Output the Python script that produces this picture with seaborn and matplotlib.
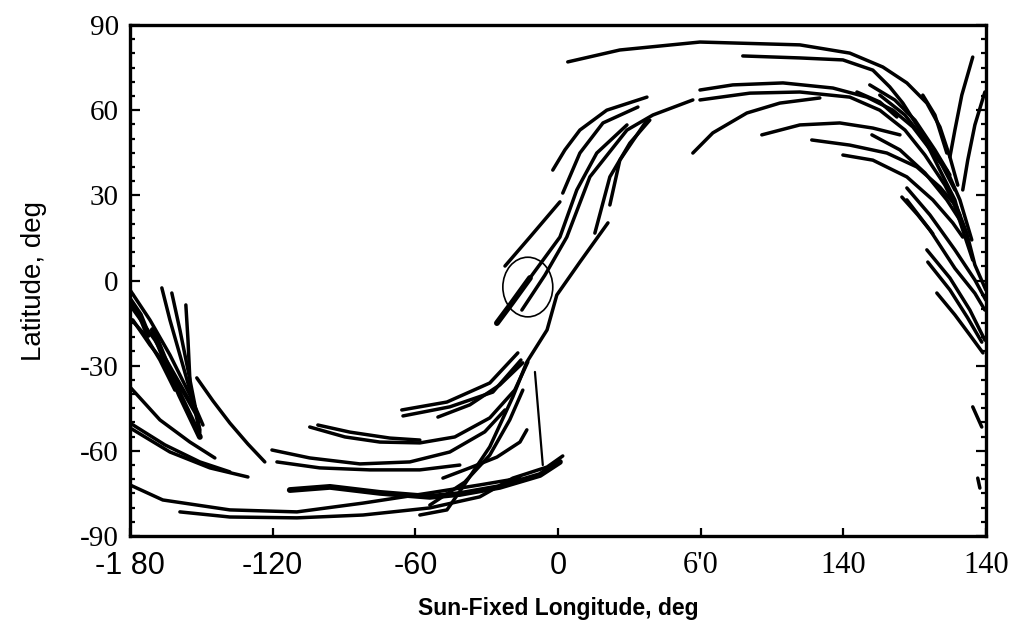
import numpy as np
import pandas as pd
import seaborn as sns
import matplotlib.pyplot as plt
from matplotlib import font_manager
from matplotlib.patches import Circle
from matplotlib.ticker import MultipleLocator

# ground tracks, each track is a list of (lon, lat) in deg
left_fan = [
    [(-180.0, -3.3), (-171.6, -13.9), (-163.2, -26.2), (-154.8, -40.3), (-149.3, -50.9)],
    [(-180.0, -8.6), (-169.5, -21.0), (-161.1, -33.3), (-152.7, -45.6), (-150.6, -53.4)],
    [(-178.8, -13.9), (-171.6, -22.7), (-163.2, -31.5), (-156.9, -40.3), (-151.4, -48.4)],
    [(-166.6, -2.6), (-163.2, -13.9), (-159.0, -26.2), (-154.8, -38.6), (-151.4, -48.4)],
    [(-162.4, -4.4), (-159.0, -17.4), (-155.6, -31.5), (-152.7, -43.8), (-150.6, -52.6)],
    [(-156.5, -8.6), (-155.6, -21.0), (-154.8, -35.0)],
    [(-180.0, -13.2), (-173.7, -19.2), (-167.4, -28.0), (-161.1, -38.6)],
    [(-151.9, -34.3), (-145.1, -42.4), (-138.0, -50.2), (-130.4, -57.6), (-123.3, -63.9)],
]

south_arcs = [
    [(-180.0, -37.5), (-167.4, -49.1), (-154.8, -56.9), (-144.3, -62.5)],
    [(-180.0, -50.2), (-165.3, -57.9), (-150.6, -63.9), (-138.0, -67.4)],
    [(-180.0, -51.9), (-163.2, -60.4), (-146.4, -66.0), (-130.4, -69.2)],
    [(-180.0, -72.0), (-166.2, -77.3), (-138.0, -80.8), (-109.8, -81.5), (-82.0, -78.4),
     (-53.9, -74.8), (-32.9, -72.0), (-16.0, -69.6)],
    [(-159.0, -81.5), (-138.0, -83.3), (-109.8, -83.6), (-82.0, -82.6), (-53.9, -80.1),
     (-32.9, -76.2), (-19.0, -69.6), (-4.6, -65.7), (2.0, -61.8)],
    [(-104.4, -51.6), (-89.6, -55.1), (-74.9, -56.9), (-58.1, -57.2), (-43.4, -55.1),
     (-28.7, -48.4), (-18.2, -38.6), (-12.7, -28.7)],
    [(-101.0, -50.9), (-87.5, -53.4), (-70.7, -55.5), (-58.1, -56.2)],
    [(-120.3, -59.7), (-104.4, -62.5), (-83.3, -64.6), (-62.3, -63.9), (-45.5, -60.4),
     (-30.8, -53.3), (-22.3, -45.6)],
    [(-118.2, -63.9), (-100.2, -66.0), (-79.1, -66.7), (-58.1, -66.7), (-41.3, -65.0)],
    [(-65.7, -45.6), (-46.7, -42.8), (-28.7, -36.1), (-16.9, -25.5)],
    [(-65.2, -47.7), (-45.5, -44.5), (-27.4, -39.3), (-15.6, -28.0)],
    [(-50.5, -48.1), (-37.1, -43.8), (-24.5, -36.8), (-14.8, -29.0)],
    [(-48.4, -69.6), (-37.1, -66.0), (-25.7, -62.2), (-16.0, -56.9), (-13.1, -52.6)],
    [(-53.9, -79.1), (-39.2, -71.0), (-28.7, -61.5), (-20.3, -49.1), (-14.8, -38.6)],
]

center_tracks = [
    [(-58.1, -82.6), (-46.7, -80.8), (-40.0, -72.7), (-28.7, -58.6), (-19.0, -41.0),
     (-13.1, -28.7), (-4.6, -17.4), (-0.5, -5.1), (9.2, 6.5), (21.0, 20.3)],
    [(-22.3, 5.1), (-11.8, 15.3), (0.8, 27.7)],
    [(-25.7, -15.0), (-11.8, 0.9), (0.8, 15.3), (7.9, 31.9), (16.3, 44.9), (29.0, 54.8)],
    [(-15.2, -10.4), (-5.5, 1.9), (3.7, 15.3), (13.4, 36.5), (29.0, 53.0), (39.9, 58.3),
     (56.7, 63.6)],
    [(-2.2, 38.9), (2.9, 46.0), (9.2, 53.0), (20.5, 60.0), (37.4, 64.6)],
    [(2.0, 30.8), (9.2, 44.9), (18.9, 55.5), (33.6, 61.1)],
    [(15.5, 16.7), (21.8, 36.5), (30.2, 48.4), (38.6, 56.5)],
    [(21.8, 26.6), (26.0, 42.4), (37.4, 56.5)],
]

north_arcs = [
    [(4.1, 77.0), (26.0, 81.2), (59.7, 84.0), (101.7, 83.0), (122.7, 80.1), (136.6, 75.2),
     (146.7, 69.6), (155.1, 62.5), (160.6, 54.1), (164.8, 43.5), (168.1, 33.6)],
    [(77.7, 79.1), (101.7, 78.4), (119.8, 77.7), (132.4, 74.1), (139.5, 68.2), (145.0, 62.5),
     (152.2, 53.0), (160.6, 38.9), (166.9, 28.4), (169.8, 19.6)],
    [(59.7, 67.1), (73.5, 68.9), (94.6, 69.6), (115.6, 67.8), (129.9, 64.6), (140.8, 60.0),
     (149.2, 54.1), (157.6, 44.9), (163.5, 38.9), (169.0, 28.4), (174.0, 14.3)],
    [(59.7, 63.6), (80.7, 66.0), (101.7, 66.4), (122.7, 64.6), (135.3, 60.0), (145.9, 53.0),
     (154.3, 44.2), (162.7, 33.6), (169.0, 23.1)],
    [(56.7, 44.9), (65.1, 52.0), (79.4, 59.0), (93.3, 62.5), (110.1, 64.3)],
    [(85.7, 51.3), (101.7, 54.8), (118.5, 55.5), (132.4, 53.7), (143.8, 51.3)],
    [(106.7, 49.5), (122.7, 47.7), (138.3, 44.9), (150.9, 40.0), (160.6, 32.9), (167.7, 25.9),
     (171.9, 16.7), (175.3, 5.5), (179.9, -3.3)],
    [(119.8, 44.2), (132.4, 42.4), (146.7, 36.5), (157.6, 28.4), (166.0, 20.3), (170.2, 15.3)],
    [(132.0, 51.3), (143.8, 46.0), (154.3, 37.9), (163.5, 28.4), (169.0, 21.3)],
    [(144.6, 29.4), (151.3, 23.1), (157.6, 16.5)],
    [(125.7, 66.4), (135.3, 62.9), (142.5, 57.6)],
    [(164.8, 43.5), (166.9, 53.0), (169.8, 65.3), (174.4, 78.7)],
    [(170.2, 31.9), (172.3, 42.4), (175.3, 54.8), (179.5, 66.4)],
    [(153.4, 65.3), (158.5, 58.3), (163.5, 44.9)],
    [(131.1, 68.9), (141.6, 63.6), (150.1, 56.5), (158.5, 46.0), (164.8, 37.2)],
    [(135.3, 65.3), (145.9, 58.3), (154.3, 49.3), (161.4, 40.7), (166.9, 31.9)],
]

east_fan = [
    [(146.7, 28.4), (156.4, 17.8), (166.9, 4.3), (175.3, -4.5), (179.5, -10.4)],
    [(146.7, 32.6), (156.4, 23.1), (166.9, 10.8), (175.3, 0.2), (179.9, -6.9)],
    [(155.1, 10.8), (164.8, 0.9), (173.2, -10.4), (179.5, -21.0)],
    [(155.5, 6.5), (164.8, -3.3), (172.3, -13.2), (178.2, -21.7)],
    [(159.3, -4.4), (166.9, -12.1), (173.2, -19.2), (178.7, -25.5)],
    [(166.0, 28.4), (174.4, 7.2)],
    [(174.4, -44.5), (178.2, -51.6)],
    [(176.5, -69.6), (177.4, -73.1)],
]

# heavier strokes (overlapping passes) and the thin drop line
thick_tracks = [
    [(-25.7, -15.0), (-19.4, -7.9), (-11.8, 0.9)],
    [(-170.4, -17.4), (-165.3, -28.0), (-159.0, -40.3), (-150.6, -55.1)],
    [(-180.0, -6.9), (-175.8, -12.1), (-172.4, -19.2)],
    [(-112.8, -73.8), (-95.9, -72.7), (-74.9, -74.8), (-53.9, -76.2), (-41.3, -75.2),
     (-24.5, -72.7), (-7.6, -68.5), (0.8, -63.9)],
]
thin_tracks = [
    [(-9.7, -32.2), (-6.4, -65.0)],
]

circle_center = (-12.7, -2.3)
circle_radius = 10.5

lon_ticks = [-180, -120, -60, 0, 60, 120, 180]
lon_labels = ["-1 80", "-120", "-60", "0", "6'0", "140", "140"]
lat_ticks = [-90, -60, -30, 0, 30, 60, 90]
lat_labels = ["-90", "-60", "-30", "0", "30", "60", "90"]


def to_frame(tracks):
    rows = []
    for i, pts in enumerate(tracks):
        for lon, lat in pts:
            rows.append((i, lon, lat))
    return pd.DataFrame(rows, columns=["track", "lon", "lat"])


sns.set_style("white")
names = {f.name for f in font_manager.fontManager.ttflist}
narrow = "Liberation Sans Narrow" if "Liberation Sans Narrow" in names else "Liberation Sans"
plt.rcParams["font.family"] = ["Liberation Sans", "DejaVu Sans"]
plt.rcParams["text.color"] = "black"
plt.rcParams["axes.labelcolor"] = "black"
plt.rcParams["xtick.color"] = "black"
plt.rcParams["ytick.color"] = "black"

fig = plt.figure(figsize=(10.13, 6.33), dpi=100)
ax = fig.add_axes([0.1283, 0.1532, 0.8451, 0.8073])

normal = to_frame(left_fan + south_arcs + center_tracks + north_arcs + east_fan)
sns.lineplot(data=normal, x="lon", y="lat", units="track", estimator=None, sort=False,
             color="black", lw=2.5, solid_capstyle="round", ax=ax, legend=False)
sns.lineplot(data=to_frame(thick_tracks), x="lon", y="lat", units="track", estimator=None,
             sort=False, color="black", lw=4.2, solid_capstyle="round", ax=ax, legend=False)
sns.lineplot(data=to_frame(thin_tracks), x="lon", y="lat", units="track", estimator=None,
             sort=False, color="black", lw=1.6, ax=ax, legend=False)

ax.add_patch(Circle(circle_center, circle_radius, fill=False, ec="black", lw=1.2))

ax.set_xlim(-180, 180)
ax.set_ylim(-90, 90)
ax.set_xticks(lon_ticks)
ax.set_xticklabels(lon_labels)
ax.set_yticks(lat_ticks)
ax.set_yticklabels(lat_labels)
ax.yaxis.set_minor_locator(MultipleLocator(5))

for i, lab in enumerate(ax.get_xticklabels()):
    if i < 4:
        lab.set_fontfamily(narrow)
        lab.set_fontsize(22)
    else:
        lab.set_fontfamily("Liberation Serif")
        lab.set_fontsize(22)
for lab in ax.get_yticklabels():
    lab.set_fontfamily("Liberation Serif")
    lab.set_fontsize(21)

ax.tick_params(axis="y", which="both", direction="in", left=True, right=True, width=1.6, pad=8)
ax.tick_params(axis="y", which="major", length=7)
ax.tick_params(axis="y", which="minor", length=3.5)
ax.tick_params(axis="x", which="major", direction="in", bottom=True, top=False, length=6,
               width=1.6, pad=11)

for side in ["left", "right", "top", "bottom"]:
    ax.spines[side].set_linewidth(2.4)
    ax.spines[side].set_color("black")

ax.set_xlabel("Sun-Fixed Longitude, deg", fontsize=16.5, fontweight="bold", labelpad=11)
ax.set_ylabel("Latitude, deg", fontsize=20, labelpad=24)

fig.savefig("out.png", dpi=100)
